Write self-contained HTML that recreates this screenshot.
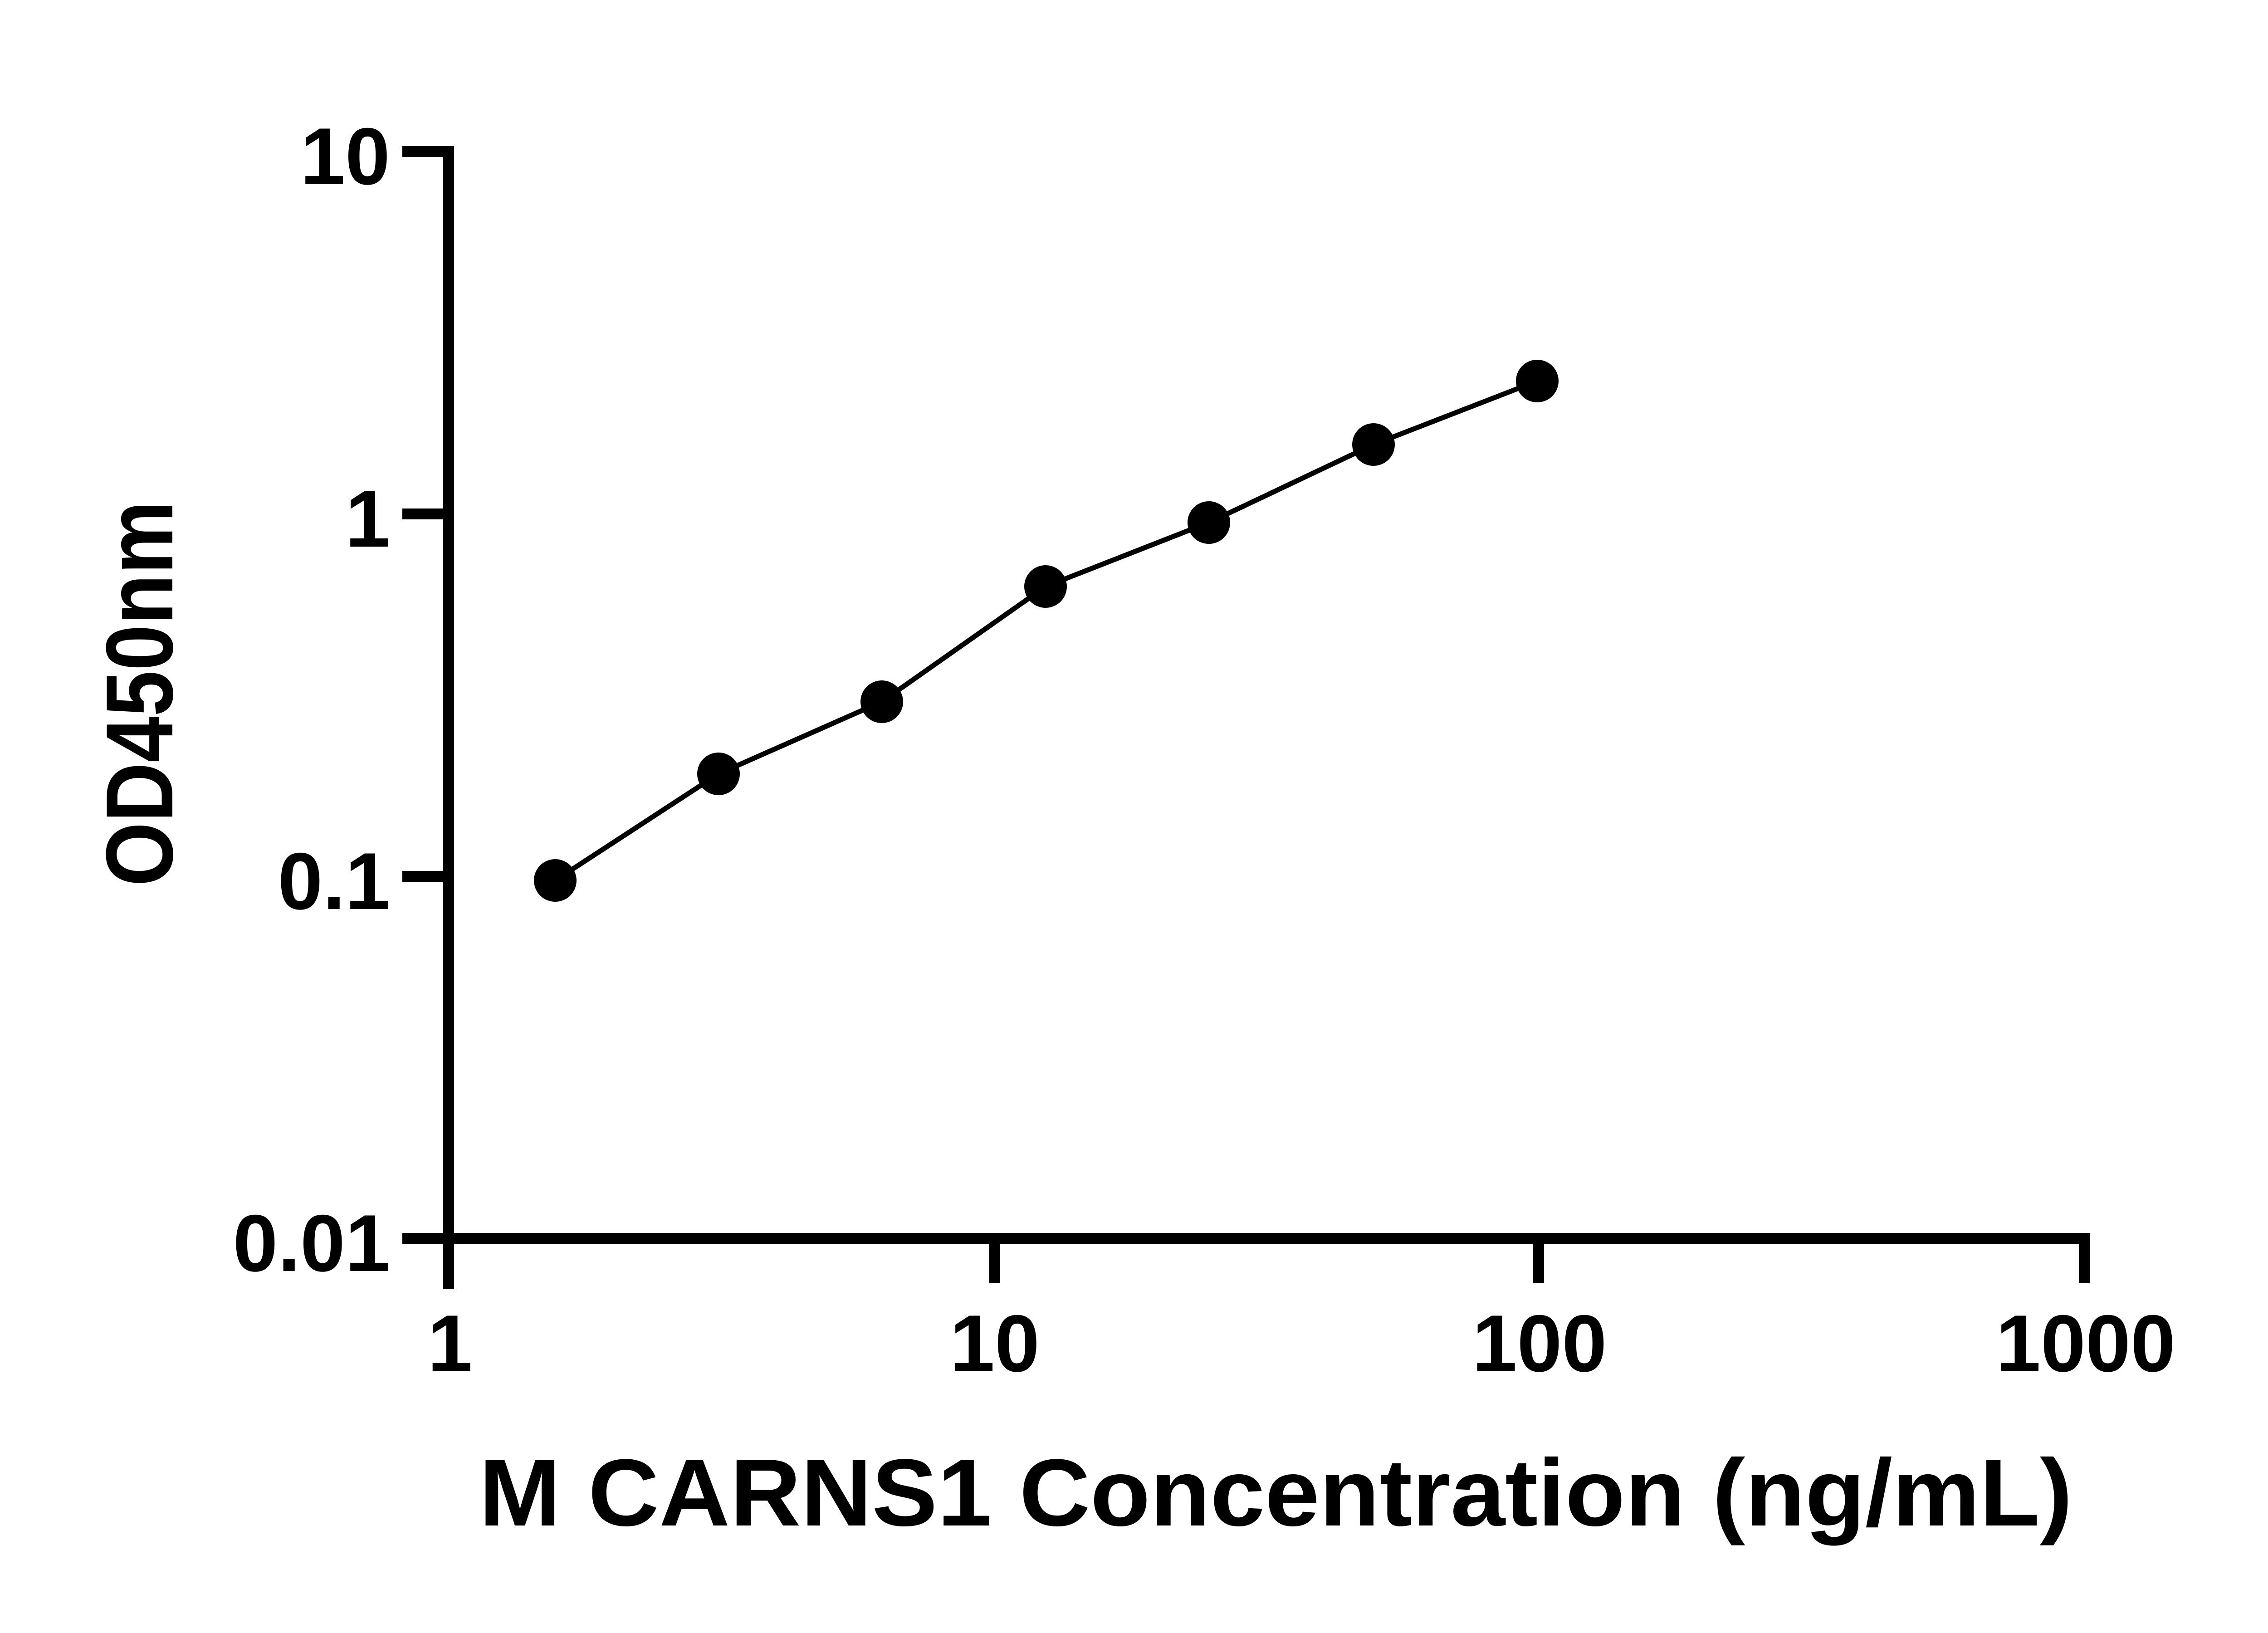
<!DOCTYPE html>
<html><head><meta charset="utf-8"><style>html,body{margin:0;padding:0;background:#fff}svg{display:block}</style></head>
<body>
<svg width="5142" height="3600" viewBox="0 0 5142 3600" xmlns="http://www.w3.org/2000/svg">
<rect width="5142" height="3600" fill="#fff"/>
<g stroke="#000" fill="none">
<line x1="989" y1="322" x2="989" y2="2842" stroke-width="24"/>
<line x1="887" y1="2730" x2="4607" y2="2730" stroke-width="24"/>
<g stroke-width="24">
<line x1="887" y1="334" x2="989" y2="334"/>
<line x1="887" y1="1133" x2="989" y2="1133"/>
<line x1="887" y1="1932" x2="989" y2="1932"/>
<line x1="2193" y1="2730" x2="2193" y2="2829"/>
<line x1="3392" y1="2730" x2="3392" y2="2829"/>
<line x1="4595" y1="2730" x2="4595" y2="2829"/>
</g>
<polyline stroke-width="11" stroke-linejoin="round" points="1224,1941 1584,1706 1944,1547 2305,1293 2665,1152 3028,980 3389,840"/>
</g>
<g fill="#000">
<circle cx="1224" cy="1941" r="47"/>
<circle cx="1584" cy="1706" r="47"/>
<circle cx="1944" cy="1547" r="47"/>
<circle cx="2305" cy="1293" r="47"/>
<circle cx="2665" cy="1152" r="47"/>
<circle cx="3028" cy="980" r="47"/>
<circle cx="3389" cy="840" r="47"/>
</g>
<g font-family="Liberation Sans, Arial, sans-serif" font-weight="bold" font-size="178" fill="#000">
<g text-anchor="end">
<text x="860" y="406">10</text>
<text x="860" y="1205">1</text>
<text x="860" y="2004">0.1</text>
<text x="860" y="2802">0.01</text>
</g>
<g text-anchor="middle">
<text x="992" y="3023">1</text>
<text x="2193" y="3023">10</text>
<text x="3394" y="3023">100</text>
<text x="4598" y="3023">1000</text>
</g>
<text x="1056" y="3363" font-size="210" textLength="3513" lengthAdjust="spacingAndGlyphs">M CARNS1 Concentration (ng/mL)</text>
<text transform="translate(380,1954) rotate(-90)" x="0" y="0" font-size="210" textLength="850" lengthAdjust="spacingAndGlyphs">OD450nm</text>
</g>
</svg>
</body></html>
